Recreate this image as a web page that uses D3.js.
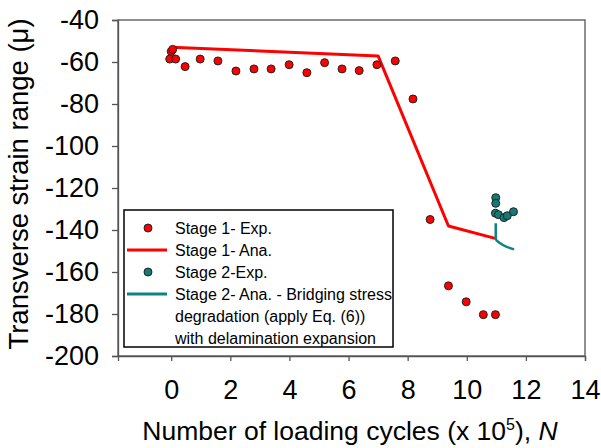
<!DOCTYPE html>
<html>
<head>
<meta charset="utf-8">
<script src="https://cdn.jsdelivr.net/npm/d3@7"></script>
<style>
  body { margin: 0; background: #fff; }
  text { font-family: "Liberation Sans", Arial, sans-serif; }
</style>
</head>
<body>
<svg id="chart" width="601" height="448"></svg>
<script>
// Stage 1 experimental points
const stage1ExpX = [0, 0.05, -0.05, 0.15, 0.47, 0.98, 1.58, 2.19, 2.8, 3.38, 3.99, 4.59, 5.19, 5.78, 6.36, 6.96, 7.58,
                    8.18, 8.76, 9.38, 9.98, 10.56, 10.97];
const stage1ExpY = [-55, -54, -58.6, -58.6, -62.2, -58.6, -59.5, -64.3, -63.3, -63.3, -61.3, -65.1, -60.3, -63.3, -64.1, -61.3, -59.5,
                    -77.6, -135, -166.6, -174.2, -180.3, -180.3];
// Stage 1 analytical
const stage1AnaX = [0, 7.0, 9.38, 10.96];
const stage1AnaY = [-53, -57.1, -138.1, -144];
// Stage 2 experimental points
const stage2ExpX = [10.98, 10.98, 10.97, 11.07, 11.26, 11.37, 11.58];
const stage2ExpY = [-124.6, -127.3, -132, -132.7, -134.1, -133.2, -131.3];
// Stage 2 analytical
const stage2AnaX = [10.98, 10.98, 11.13, 11.35, 11.6];
const stage2AnaY = [-136.8, -144, -146.3, -148, -149.2];

const xTicks = [0, 2, 4, 6, 8, 10, 12, 14];
const yTicks = [-40, -60, -80, -100, -120, -140, -160, -180, -200];

const legendLabels = [
  ["Stage 1- Exp."],
  ["Stage 1- Ana."],
  ["Stage 2-Exp."],
  ["Stage 2- Ana. - Bridging stress", "degradation (apply Eq. (6))", "with delamination expansion"]
];

const red = "#ff0000", teal = "#0e8383", tealPt = "#137a78";

let margin = {top: 20, right: 16, bottom: 92, left: 118},
    width = 601 - margin.left - margin.right,
    height = 448 - margin.top - margin.bottom;

let svg = d3.select("#chart");
let g = svg.append("g")
    .attr("transform", "translate(" + margin.left + "," + margin.top + ")");

let xScale = d3.scaleLinear().domain([-1.8, 14]).range([0, width]);
let yScale = d3.scaleLinear().domain([-200, -40]).range([height, 0]);

// frame
g.append("rect")
    .attr("width", width).attr("height", height)
    .attr("fill", "none").attr("stroke", "#555").attr("stroke-width", 1.3);

// x axis
let xAxis = g.append("g")
    .attr("transform", "translate(0," + height + ")")
    .call(d3.axisBottom(xScale).tickValues(xTicks).tickSize(5).tickPadding(19).tickFormat(d3.format("d")));
xAxis.select(".domain").attr("stroke", "#555").attr("stroke-width", 1.3);
xAxis.selectAll(".tick line").attr("stroke", "#555").attr("stroke-width", 1.3);
xAxis.selectAll("text").style("font-size", "27px").attr("fill", "#000");

// y axis
let yAxis = g.append("g")
    .call(d3.axisLeft(yScale).tickValues(yTicks).tickSize(6).tickPadding(13).tickFormat(d => d3.format("d")(d).replace("−", "-")));
yAxis.select(".domain").attr("stroke", "#555").attr("stroke-width", 1.3);
yAxis.selectAll(".tick line").attr("stroke", "#555").attr("stroke-width", 1.3);
yAxis.selectAll("text").style("font-size", "27px").attr("fill", "#000");

// axis titles
let xTitle = svg.append("text")
    .attr("x", 350).attr("y", 440)
    .attr("text-anchor", "middle")
    .style("font-size", "26.5px");
xTitle.append("tspan").text("Number of loading cycles (x 10");
xTitle.append("tspan").text("5").attr("dy", -10).style("font-size", "16px");
xTitle.append("tspan").text("), ").attr("dy", 10);
xTitle.append("tspan").text("N").style("font-style", "italic");

svg.append("text")
    .attr("transform", "translate(28,184) rotate(-90)")
    .attr("text-anchor", "middle")
    .style("font-size", "27.5px")
    .text("Transverse strain range (\u03bc)");

let line = d3.line().x(d => xScale(d[0])).y(d => yScale(d[1]));

g.append("path")
    .datum(d3.zip(stage1AnaX, stage1AnaY))
    .attr("d", line).attr("fill", "none")
    .attr("stroke", red).attr("stroke-width", 3).attr("stroke-linejoin", "round");

g.append("path")
    .datum(d3.zip(stage2AnaX, stage2AnaY))
    .attr("d", d3.line().x(d => xScale(d[0])).y(d => yScale(d[1])).curve(d3.curveMonotoneY))
    .attr("fill", "none")
    .attr("stroke", teal).attr("stroke-width", 2.5);

g.selectAll(".s1").data(d3.zip(stage1ExpX, stage1ExpY)).enter().append("circle")
    .attr("class", "s1")
    .attr("cx", d => xScale(d[0])).attr("cy", d => yScale(d[1])).attr("r", 4)
    .attr("fill", red).attr("stroke", "#222").attr("stroke-width", 1);

g.selectAll(".s2").data(d3.zip(stage2ExpX, stage2ExpY)).enter().append("circle")
    .attr("class", "s2")
    .attr("cx", d => xScale(d[0])).attr("cy", d => yScale(d[1])).attr("r", 4)
    .attr("fill", tealPt).attr("stroke", "#222").attr("stroke-width", 1);

// legend
let lg = svg.append("g").attr("transform", "translate(124,210)");
lg.append("rect").attr("width", 269).attr("height", 137)
    .attr("fill", "#fff").attr("stroke", "#000").attr("stroke-width", 1.5);

let rowY = [18, 40, 62, 84];
lg.append("circle").attr("cx", 24).attr("cy", rowY[0]).attr("r", 4)
    .attr("fill", red).attr("stroke", "#222");
lg.append("line").attr("x1", 3).attr("x2", 43).attr("y1", rowY[1]).attr("y2", rowY[1])
    .attr("stroke", red).attr("stroke-width", 3);
lg.append("circle").attr("cx", 24).attr("cy", rowY[2]).attr("r", 4)
    .attr("fill", tealPt).attr("stroke", "#222");
lg.append("line").attr("x1", 3).attr("x2", 43).attr("y1", rowY[3]).attr("y2", rowY[3])
    .attr("stroke", teal).attr("stroke-width", 3);

legendLabels.forEach((lines, i) => {
  lines.forEach((t, j) => {
    lg.append("text")
      .attr("x", 51).attr("y", rowY[i] + j * 22 + 6)
      .style("font-size", "16px")
      .text(t);
  });
});
</script>
</body>
</html>
